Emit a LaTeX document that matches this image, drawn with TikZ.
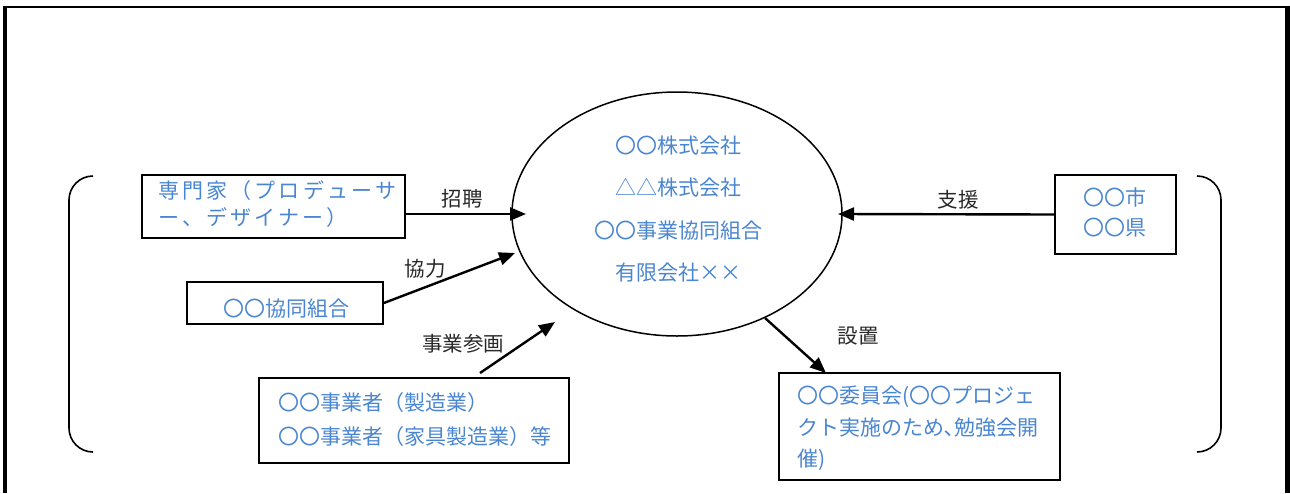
\documentclass[tikz,border=0pt]{standalone}
\usepackage{fontspec}
\setmainfont{Noto Sans CJK JP}
\usetikzlibrary{arrows.meta,shapes.geometric}
\definecolor{txtblue}{RGB}{74,134,208}
\definecolor{labgray}{RGB}{40,40,40}
\begin{document}
\begin{tikzpicture}[x=1pt,y=-1pt,
  box/.style={draw,line width=1.8pt,inner sep=0pt},
  bt/.style={text=txtblue,font=\fontsize{21}{25}\selectfont,inner sep=0pt},
  lab/.style={text=labgray,font=\fontsize{20.5}{24}\selectfont,inner sep=0pt},
  arr/.style={line width=2.4pt,-{Triangle[length=16pt,width=13pt]}},
  brk/.style={line width=1.6pt,rounded corners=24pt}]
\useasboundingbox (0,0) rectangle (1290,493);
% frame
\draw[line width=2pt] (3,6.7) -- (1290,6.7);
\draw[line width=4pt] (5.3,5.7) -- (5.3,493);
\draw[line width=5pt] (1287,5.7) -- (1287,493);
% brackets
\draw[brk] (93,176) -- (69,176) -- (69,452) -- (93,452);
\draw[brk] (1197,176) -- (1221,176) -- (1221,452) -- (1197,452);
% ellipse
\node[draw,ellipse,line width=1.5pt,minimum width=330,minimum height=244,inner sep=0pt] (org) at (677,214) {};
\node[bt] (o1) at (678,146) {〇〇株式会社};
\node[bt] (o2) at (678,188) {△△株式会社};
\node[bt] (o3) at (678,231) {〇〇事業協同組合};
\node[bt] (o4) at (678,273) {有限会社××};
% boxes
\node[box,minimum width=263,minimum height=63] (exp) at (273.5,206.5) {};
\node[bt,anchor=west] (e1) at (158,191) {\addfontfeature{LetterSpace=15}専門家（プロデューサ};
\node[bt,anchor=west] (e2) at (158,218) {\addfontfeature{LetterSpace=15}ー、デザイナー）};
\node[box,minimum width=196,minimum height=42] (kyo) at (285,303) {};
\node[bt] (k1) at (286,309) {〇〇協同組合};
\node[box,minimum width=310,minimum height=85] (biz) at (414,420.5) {};
\node[bt,anchor=west] (b1) at (278,403) {〇〇事業者（製造業）};
\node[bt,anchor=west] (b2) at (278,437) {〇〇事業者（家具製造業）等};
\node[box,minimum width=281,minimum height=107] (com) at (919.5,426.5) {};
\node[bt,anchor=west] (c1) at (797,397) {〇〇委員会(〇〇プロジェ};
\node[bt,anchor=west] (c2) at (797,428) {クト実施のため､勉強会開};
\node[bt,anchor=west] (c3) at (797,460) {催)};
\node[box,minimum width=121,minimum height=79] (city) at (1115.5,214.5) {};
\node[bt] (y1) at (1115,197) {〇〇市};
\node[bt] (y2) at (1115,228) {〇〇県};
% arrow end points
\coordinate (t1) at (526,214);
\coordinate (t2) at (515,253);
\coordinate (s3) at (480,373);
\coordinate (t3) at (555,322);
\coordinate (t4) at (838,214);
\coordinate (s5) at (765,318);
\coordinate (t5) at (826,373);
% arrows
\draw[arr] (exp.east |- t1) -- (t1);
\draw[arr] (kyo.east) -- (t2);
\draw[arr] (s3) -- (t3);
\draw[arr] (city.west) -- (t4);
\draw[arr] (s5) -- (t5);
% labels
\node[lab] (l1) at (462,199) {招聘};
\node[lab] (l2) at (425,269) {協力};
\node[lab] (l3) at (463,344) {事業参画};
\node[lab] (l4) at (958,200) {支援};
\node[lab] (l5) at (858,336) {設置};
\end{tikzpicture}
\end{document}
